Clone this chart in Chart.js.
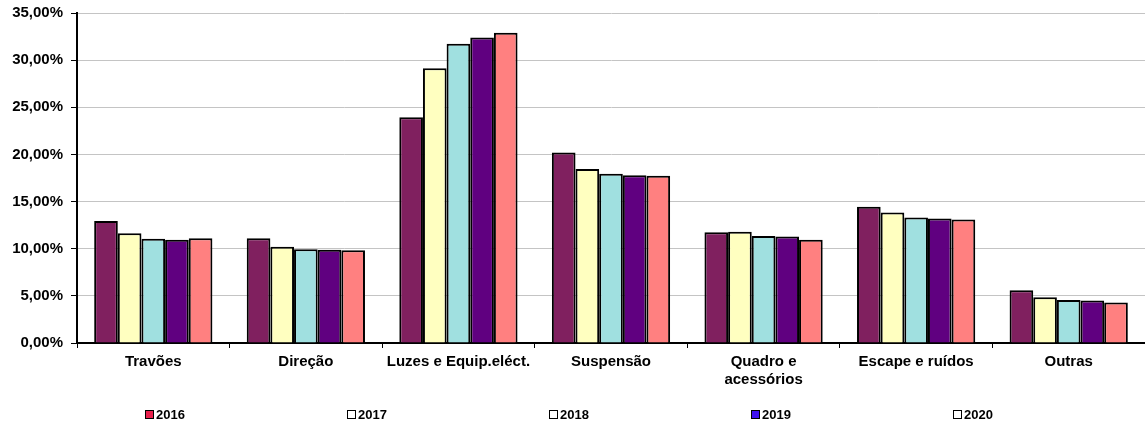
<!DOCTYPE html>
<html>
<head>
<meta charset="utf-8">
<script src="https://cdn.jsdelivr.net/npm/chart.js@4/dist/chart.umd.min.js"></script>
<style>
  html, body { margin: 0; padding: 0; background: #fff; }
  #wrap { position: relative; width: 1145px; height: 428px; }
  #legenda { position: absolute; left: 0; top: 407px; width: 1145px; height: 18px;
             font: bold 13px "Liberation Sans", Arial, sans-serif; color: #000; }
  .item { position: absolute; top: 0; display: flex; align-items: center; }
  .box { width: 7px; height: 7px; border: 1.5px solid #000; margin-right: 2px; }
</style>
</head>
<body>
<div id="wrap">
  <canvas id="grafico" width="1145" height="428"></canvas>
  <div id="legenda"></div>
</div>
<script>
// categorias e valores (%)
const categorias = ['Travões', 'Direção', 'Luzes e Equip.eléct.', 'Suspensão', ['Quadro e', 'acessórios'], 'Escape e ruídos', 'Outras'];
const anos = ['2016', '2017', '2018', '2019', '2020'];
const v2016 = [12.95, 11.1, 23.95, 20.2, 11.75, 14.45, 5.6];
const v2017 = [11.65, 10.2, 29.15, 18.45, 11.8, 13.85, 4.85];
const v2018 = [11.05, 9.95, 31.75, 17.95, 11.35, 13.3, 4.55];
const v2019 = [10.95, 9.9, 32.4, 17.8, 11.3, 13.2, 4.5];
const v2020 = [11.1, 9.85, 32.9, 17.75, 10.95, 13.1, 4.3];
const yTicks = [0, 5, 10, 15, 20, 25, 30, 35];

const series = [v2016, v2017, v2018, v2019, v2020];
const cores = ['#80205f', '#ffffc0', '#a0e0e0', '#600080', '#ff8080'];
// a legenda original usa outras cores
const coresLegenda = ['#e8204c', '#ffffff', '#ffffff', '#3f10f0', '#ffffff'];

Chart.defaults.font.family = "'Liberation Sans', Arial, sans-serif";
Chart.defaults.color = '#000';

const ctx = document.getElementById('grafico').getContext('2d');

new Chart(ctx, {
    type: 'bar',
    data: {
        labels: categorias,
        datasets: anos.map((ano, i) => ({
            label: ano,
            data: series[i],
            backgroundColor: cores[i],
            borderColor: '#000',
            borderWidth: 2,
            categoryPercentage: 0.775,
            barPercentage: 1
        }))
    },
    options: {
        responsive: false,
        animation: false,
        layout: { padding: { top: 13, right: 0, left: 0, bottom: 0 } },
        plugins: {
            legend: { display: false },
            tooltip: { enabled: false }
        },
        scales: {
            x: {
                grid: { display: true, drawOnChartArea: false, tickLength: 5, tickColor: '#000', offset: true },
                border: { color: '#000', width: 2 },
                ticks: { font: { size: 15, weight: 'bold' }, padding: 5, maxRotation: 0, autoSkip: false },
                afterFit: s => { s.height = 85; }
            },
            y: {
                min: 0,
                max: 35,
                afterBuildTicks: s => { s.ticks = yTicks.map(v => ({ value: v })); },
                grid: { color: '#c4c4c4', lineWidth: 1, tickLength: 6, tickColor: '#000' },
                border: { color: '#000', width: 2 },
                ticks: {
                    font: { size: 15, weight: 'bold' },
                    padding: 8,
                    callback: v => v.toFixed(2).replace('.', ',') + '%'
                },
                afterFit: s => { s.width = 77; s.paddingTop = 0; s.paddingBottom = 0; }
            }
        }
    }
});

// legenda espalhada como no original
const leg = document.getElementById('legenda');
anos.forEach((ano, i) => {
    const el = document.createElement('div');
    el.className = 'item';
    el.style.left = (145 + i * 202) + 'px';
    el.innerHTML = '<span class="box" style="background:' + coresLegenda[i] + '"></span>' + ano;
    leg.appendChild(el);
});
</script>
</body>
</html>
